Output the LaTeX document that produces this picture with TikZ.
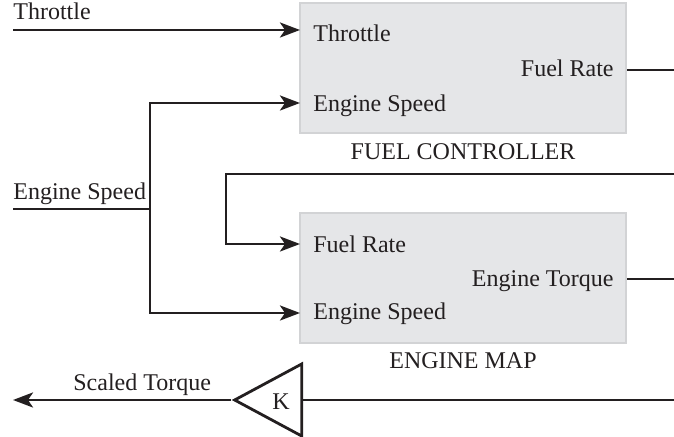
\documentclass[tikz,border=0pt]{standalone}
\usepackage{fontspec}
\setmainfont{Liberation Serif}
\usetikzlibrary{arrows.meta,positioning,shapes.geometric}
\definecolor{wireblack}{RGB}{35,31,32}
\definecolor{blockfill}{RGB}{229,230,232}
\definecolor{blockedge}{RGB}{210,211,213}
\tikzset{
  base/.style={font=\fontsize{12}{14}\selectfont, inner sep=0pt, text=wireblack},
  block/.style={base, rectangle, draw=blockedge, fill=blockfill, line width=1pt, minimum width=163pt, minimum height=65pt},
  port/.style={base, anchor=base west},
  oport/.style={base, anchor=base east},
  gain/.style={base, isosceles triangle, isosceles triangle stretches, shape border rotate=180, draw=wireblack, line width=1.4pt, minimum width=36pt, minimum height=33.5pt},
  wire/.style={line width=1.4pt, draw=wireblack},
  arr/.style={wire, -{Stealth[length=10pt,width=7.5pt,inset=2.5pt]}},
  lbl/.style={base, anchor=base west},
}
\begin{document}
\begin{tikzpicture}[x=0.5pt,y=-0.5pt]
  \useasboundingbox (0,0) rectangle (674,437);
  \node[block] (fc) at (463,68) {};
  \node[block] (em) at (463,278) {};
  \node[base,anchor=base] (fclbl) at (463,160) {FUEL CONTROLLER};
  \node[base,anchor=base] (emlbl) at (463,369) {ENGINE MAP};
  \node[port]  (fcthr)  at (313,42)  {Throttle};
  \node[port]  (fcspd)  at (313,112) {Engine Speed};
  \node[oport] (fcrate) at (614,77)  {Fuel Rate};
  \node[port]  (emrate) at (313,253) {Fuel Rate};
  \node[oport] (emtrq)  at (614,287) {Engine Torque};
  \node[port]  (emspd)  at (313,320) {Engine Speed};
  \node[gain,anchor=apex] (k) at (231,400) {};
  \node[base] (klbl) at (281,402) {K};
  \node[lbl] (thrlbl) at (13,20)  {Throttle};
  \node[lbl] (spdlbl) at (13,200) {Engine Speed};
  \node[lbl] (scllbl) at (73,391) {Scaled Torque};
  \coordinate (thrin)  at (13,30);
  \coordinate (spdin)  at (13,209);
  \coordinate (spdj)   at (150,209);
  \coordinate (ratein) at (674,174);
  \coordinate (rateout) at (674,70);
  \coordinate (trqout) at (674,279);
  \coordinate (trqin)  at (674,400);
  \coordinate (sclout) at (13,400);
  \coordinate (fcin1) at (300,30);
  \coordinate (fcin2) at (300,103);
  \coordinate (emin1) at (300,244);
  \coordinate (emin2) at (300,313);
  \draw[arr] (thrin) -- (fcin1);
  \draw[wire] (spdin) -- (spdj);
  \foreach \p in {fcin2,emin2}{\draw[arr] (spdj) |- (\p);}
  \draw[arr] (ratein) -- (226,174) |- (emin1);
  \draw[wire] (fc.east |- rateout) -- (rateout);
  \draw[wire] (em.east |- trqout) -- (trqout);
  \draw[wire] (trqin) -- (k.lower side);
  \draw[arr] (k.apex) -- (sclout);
\end{tikzpicture}
\end{document}
